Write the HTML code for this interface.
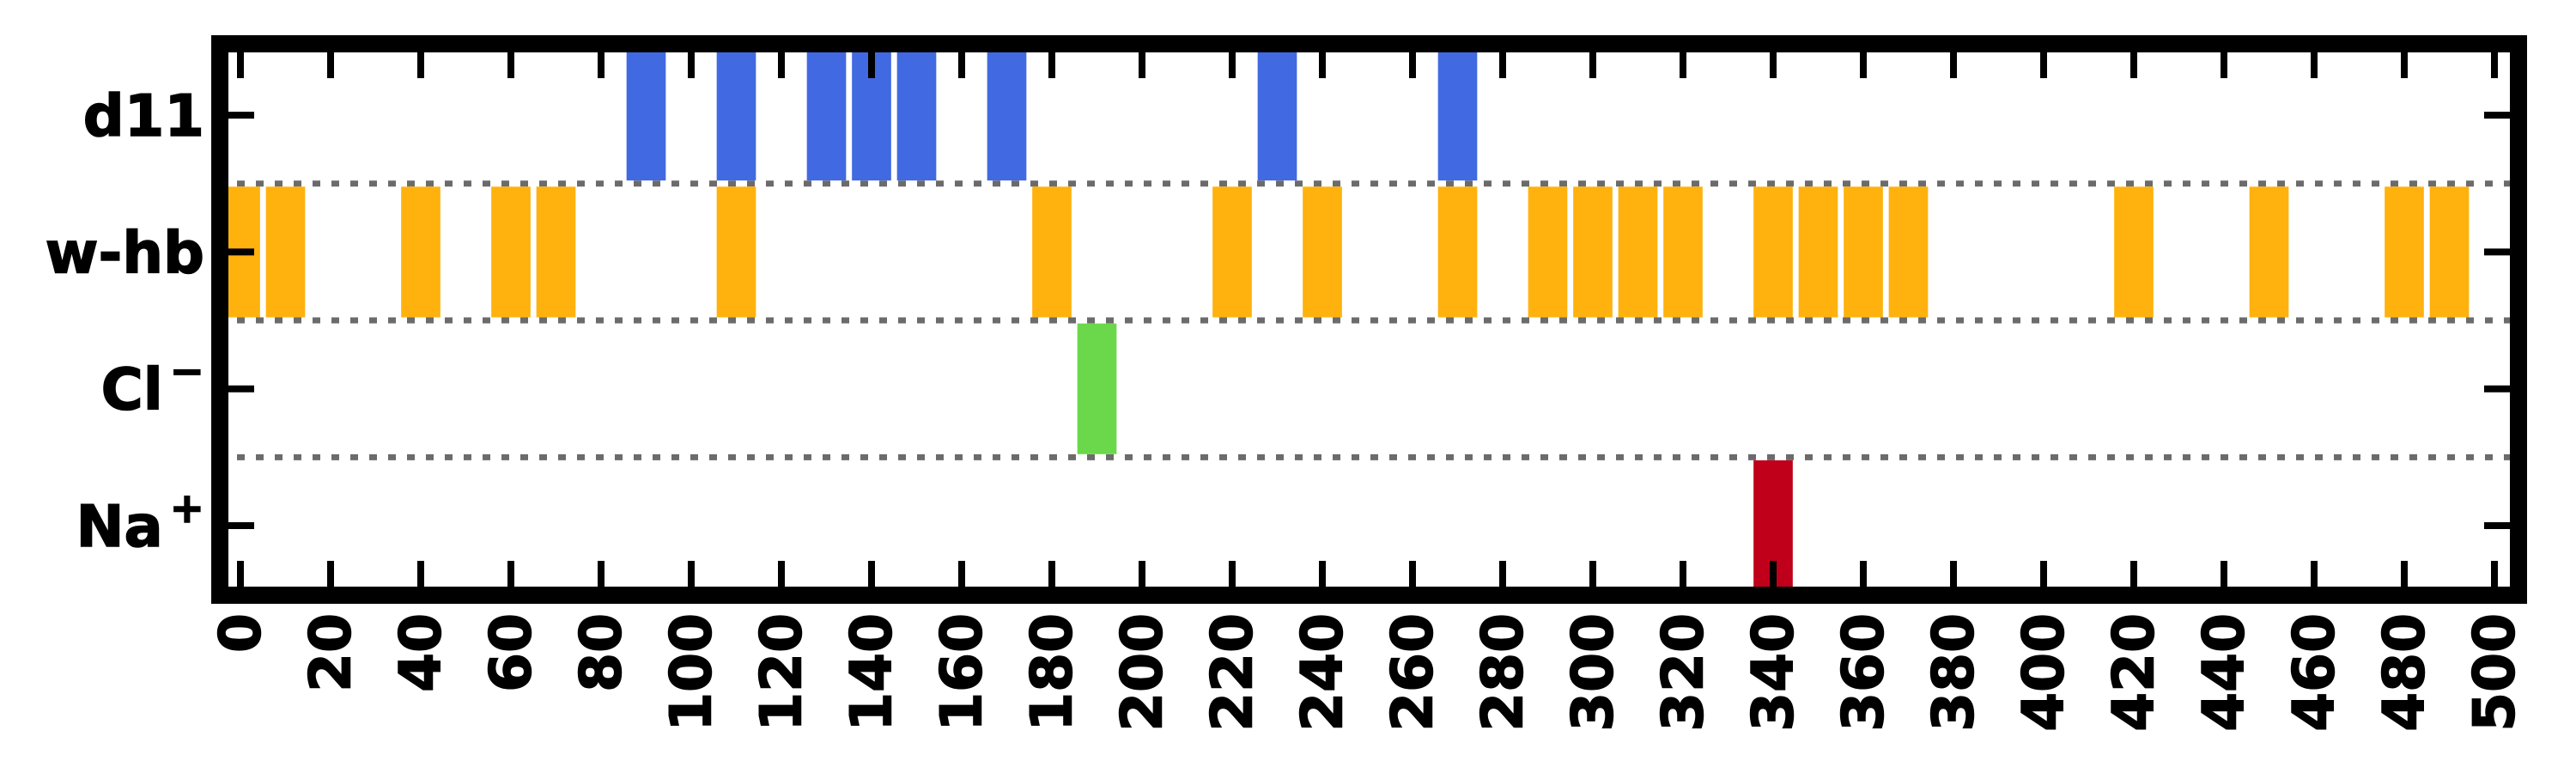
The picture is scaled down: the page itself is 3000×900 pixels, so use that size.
<!DOCTYPE html>
<html><head><meta charset="utf-8"><style>
html,body{margin:0;padding:0;background:#fff;}
svg{display:block;font-family:"DejaVu Sans","Liberation Sans",sans-serif;font-weight:bold;}
</style></head><body>
<svg id="chart" width="3000" height="900" viewBox="0 0 3000 900" xmlns="http://www.w3.org/2000/svg">
<g id="grid"></g>
<g id="bars"></g>
<g id="ticks"></g>
<rect x="256" y="51" width="2677" height="642" fill="none" stroke="#000" stroke-width="20"/>
<g id="labels"></g>
</svg>
<script>
const categories = ["Na+", "Cl-", "w-hb", "d11"];
const d11Events = [90, 110, 130, 140, 150, 170, 230, 270];
const whbEvents = [0, 10, 40, 60, 70, 110, 180, 220, 240, 270, 290, 300, 310, 320, 340, 350, 360, 370, 420, 450, 480, 490];
const clEvents = [190];
const naEvents = [340];
const xTicks = [0,20,40,60,80,100,120,140,160,180,200,220,240,260,280,300,320,340,360,380,400,420,440,460,480,500];

const NS = "http://www.w3.org/2000/svg";
const X0 = 280, XS = 5.25;
const Y0 = 612, YS = 159.3;
const L = 266, R = 2923, T = 61, B = 683;
const x = v => X0 + v * XS;
const y = v => Y0 - v * YS;
function mk(tag, attrs, parent){ const e=document.createElementNS(NS,tag); for(const k in attrs) e.setAttribute(k, attrs[k]); parent.appendChild(e); return e; }

const grid = document.getElementById('grid');
[0.5,1.5,2.5].forEach(v=>{
  const l = mk('line',{x1:L+10,x2:R,y1:y(v),y2:y(v),stroke:'#6b6b6b','stroke-width':7,'stroke-dasharray':'9 13'},grid);
  
  
});

const bars = document.getElementById('bars');
const series = [
  {name:'d11', vals:d11Events, cat:3, color:'#4169e1'},
  {name:'w-hb', vals:whbEvents, cat:2, color:'#ffb20d'},
  {name:'cl', vals:clEvents, cat:1, color:'#6ad84a'},
  {name:'na', vals:naEvents, cat:0, color:'#c0001a'}
];
const BW = 8.7, BH = 0.955;
series.forEach(s=>{
  s.vals.forEach(v=>{
    let x1 = Math.max(x(v - BW/2), L), x2 = x(v + BW/2);
    let y1 = Math.max(y(s.cat + BH/2), T), y2 = y(s.cat - BH/2);
    const r = mk('rect',{x:x1,y:y1,width:x2-x1,height:y2-y1,fill:s.color},bars);
    
    
  });
});

const ticks = document.getElementById('ticks');
xTicks.forEach(v=>{
  const t1 = mk('line',{x1:x(v),x2:x(v),y1:T,y2:T+30,stroke:'#000','stroke-width':8},ticks);
  
  
  const t2 = mk('line',{x1:x(v),x2:x(v),y1:B-30,y2:B,stroke:'#000','stroke-width':8},ticks);
  
  
});
categories.forEach((c,i)=>{
  const t1 = mk('line',{x1:L,x2:L+30,y1:y(i),y2:y(i),stroke:'#000','stroke-width':8},ticks);
  
  
  const t2 = mk('line',{x1:R-30,x2:R,y1:y(i),y2:y(i),stroke:'#000','stroke-width':8},ticks);
  
  
});

const labels = document.getElementById('labels');
xTicks.forEach(v=>{
  const t = mk('text',{x:0,y:0,'font-size':66,'text-anchor':'end','dominant-baseline':'central',stroke:'#000','stroke-width':1.5,transform:`translate(${x(v)},714) rotate(-90)`},labels);
  t.textContent = String(v);
  
  
});
const yLabelParts = [["Na","+"],["Cl","\u2212"],["w-hb",""],["d11",""]];
yLabelParts.forEach((p,i)=>{
  const t = mk('text',{x:238,y:y(i)+24,'font-size':67,'text-anchor':'end',stroke:'#000','stroke-width':1.5},labels);
  
  
  const a = mk('tspan',{},t); a.textContent = p[0];
  if(p[1]){ const b = mk('tspan',{'font-size':48,dy:-28,dx:8},t); b.textContent = p[1]; }
});
</script>
</body></html>
